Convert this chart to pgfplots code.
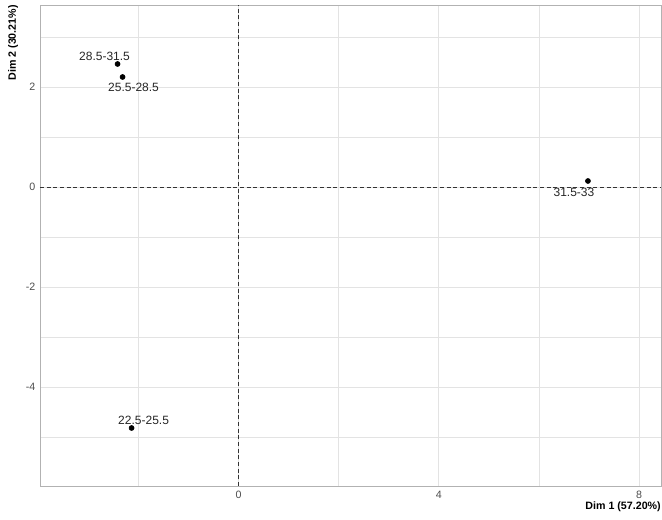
\documentclass[border=0pt]{standalone}
\usepackage{pgfplots}
\pgfplotsset{compat=1.18}
\usepackage{fontspec}
\setmainfont{Liberation Sans}
\definecolor{gridc}{HTML}{E3E3E3}
\definecolor{tickc}{HTML}{4D4D4D}
\begin{document}
\begin{tikzpicture}
\begin{axis}[
  scale only axis,
  width=465.75pt, height=360.75pt,
  xmin=-3.97, xmax=8.44, ymin=-5.98, ymax=3.64,
  xtick={0,4,8}, ytick={-4,-2,0,2},
  minor xtick={-2,2,6}, minor ytick={-5,-3,-1,1,3},
  grid=both,
  major grid style={gridc, line width=0.6pt},
  minor grid style={gridc, line width=0.45pt},
  axis line style={draw=gray!60, line width=0.6pt},
  tick style={draw=none},
  /pgf/number format/assume math mode=true,
  ticklabel style={font=\fontsize{8}{9}\selectfont, text=tickc},
  clip=false,
]
\draw[dash pattern=on 3pt off 2pt, black!80, line width=0.6pt] (axis cs:0,-5.98) -- (axis cs:0,3.64);
\draw[dash pattern=on 3pt off 2pt, black!80, line width=0.6pt] (axis cs:-3.97,0) -- (axis cs:8.44,0);
\addplot[only marks, mark=*, mark size=1.9pt, black] coordinates {
  (-2.42,2.46) (-2.32,2.20) (6.98,0.12) (-2.14,-4.82)
};
\addplot[only marks, mark=none, nodes near coords, point meta=explicit symbolic,
  nodes near coords style={font=\fontsize{9}{10}\selectfont, text=black!85, anchor=center}]
  coordinates {
  (-2.68,2.62) [28.5-31.5]
  (-2.10,1.99) [25.5-28.5]
  (6.70,-0.10) [31.5-33]
  (-1.90,-4.66) [22.5-25.5]
};
\coordinate (ll) at (rel axis cs:0,0);
\coordinate (ur) at (rel axis cs:1,1);
\node[anchor=base east, font=\bfseries\fontsize{8}{9}\selectfont, inner sep=0pt] at ([yshift=-18pt]rel axis cs:1,0) {Dim 1 (57.20\%)};
\node[anchor=north east, rotate=90, font=\bfseries\fontsize{8}{9}\selectfont, inner sep=0pt] at ([xshift=-24pt]rel axis cs:0,1) {Dim 2 (30.21\%)};
\end{axis}
\pgfresetboundingbox
\path ([xshift=-30pt,yshift=-25.5pt]ll) rectangle ([xshift=0.75pt,yshift=3.75pt]ur);
\end{tikzpicture}
\end{document}
